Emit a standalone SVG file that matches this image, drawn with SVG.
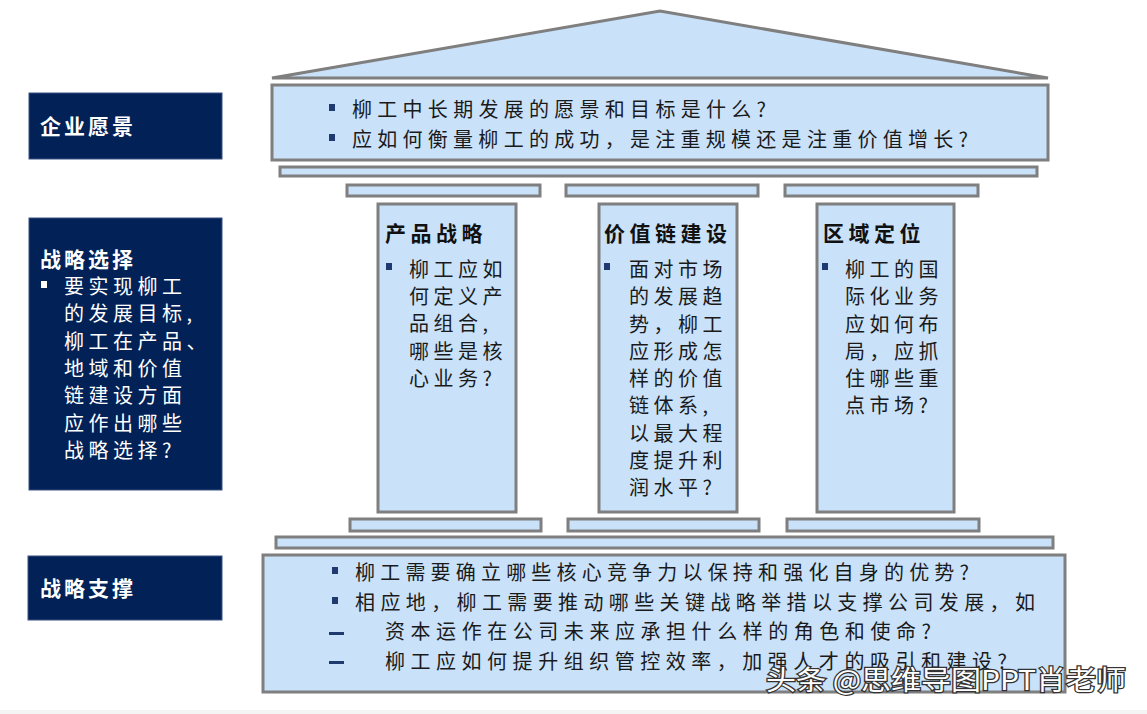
<svg xmlns="http://www.w3.org/2000/svg" width="1147" height="714" viewBox="0 0 1147 714">
<style>
.sh{fill:#c9e2fa;stroke:#7f7f7f;stroke-width:3}
.nv{fill:#012157;stroke:#3a5285;stroke-width:1}
.t{font-family:"Noto Sans CJK SC","Noto Sans",sans-serif;font-size:20px;fill:#1a1a1a}
.tb{font-family:"Noto Sans CJK SC","Noto Sans",sans-serif;font-size:21px;font-weight:bold;fill:#111}
.w{font-family:"Noto Sans CJK SC","Noto Sans",sans-serif;font-size:20px;fill:#fff}
.wb{font-family:"Noto Sans CJK SC","Noto Sans",sans-serif;font-size:21px;font-weight:bold;fill:#fff}
.col{letter-spacing:4.5px}
.bl{fill:#1f3a70}
.bw{fill:#fff}
</style>
<rect x="0" y="0" width="1147" height="714" fill="#fff"/>
<rect x="0" y="710" width="1147" height="4" fill="#f4f4f4"/>

<g id="roof">
<polygon class="sh" points="272,78 660,11 1048,78"/>
</g>

<g id="vision-box">
<rect class="sh" x="272" y="85" width="776" height="75"/>
<rect class="bl" x="329" y="104" width="6" height="7"/>
<text class="t" x="352" y="117" textLength="414" lengthAdjust="spacing">柳工中长期发展的愿景和目标是什么?</text>
<rect class="bl" x="329" y="134" width="6" height="7"/>
<text class="t" x="352" y="147" textLength="616" lengthAdjust="spacing">应如何衡量柳工的成功，是注重规模还是注重价值增长?</text>
</g>

<g id="top-bars">
<rect class="sh" x="280" y="167" width="757" height="9"/>
<rect class="sh" x="347" y="185" width="193" height="11"/>
<rect class="sh" x="566" y="185" width="192" height="11"/>
<rect class="sh" x="785" y="185" width="193" height="11"/>
</g>

<g id="col-product">
<rect class="sh" x="378" y="204" width="138" height="308"/>
<text class="tb col" x="385" y="241">产品战略</text>
<rect class="bl" x="386" y="263" width="6" height="7"/>
<text class="t col" x="409" y="277">柳工应如</text>
<text class="t col" x="409" y="304">何定义产</text>
<text class="t col" x="409" y="331">品组合,</text>
<text class="t col" x="409" y="359">哪些是核</text>
<text class="t col" x="409" y="386">心业务?</text>
</g>

<g id="col-value">
<rect class="sh" x="599" y="204" width="138" height="308"/>
<text class="tb col" x="604" y="241">价值链建设</text>
<rect class="bl" x="604" y="263" width="6" height="7"/>
<text class="t col" x="629" y="277">面对市场</text>
<text class="t col" x="629" y="304">的发展趋</text>
<text class="t col" x="629" y="332">势，柳工</text>
<text class="t col" x="629" y="359">应形成怎</text>
<text class="t col" x="629" y="386">样的价值</text>
<text class="t col" x="629" y="413">链体系,</text>
<text class="t col" x="629" y="441">以最大程</text>
<text class="t col" x="629" y="468">度提升利</text>
<text class="t col" x="629" y="495">润水平?</text>
</g>

<g id="col-region">
<rect class="sh" x="817" y="204" width="137" height="308"/>
<text class="tb col" x="823" y="241">区域定位</text>
<rect class="bl" x="822" y="263" width="6" height="7"/>
<text class="t col" x="845" y="277">柳工的国</text>
<text class="t col" x="845" y="304">际化业务</text>
<text class="t col" x="845" y="332">应如何布</text>
<text class="t col" x="845" y="359">局，应抓</text>
<text class="t col" x="845" y="386">住哪些重</text>
<text class="t col" x="845" y="413">点市场?</text>
</g>

<g id="base-bars">
<rect class="sh" x="350" y="519" width="191" height="12"/>
<rect class="sh" x="568" y="519" width="191" height="12"/>
<rect class="sh" x="787" y="519" width="192" height="12"/>
<rect class="sh" x="276" y="537" width="777" height="11"/>
</g>

<g id="support-box">
<rect class="sh" x="263" y="555" width="802" height="137"/>
<rect class="bl" x="332" y="567" width="6" height="7"/>
<text class="t" x="355" y="580" textLength="614" lengthAdjust="spacing">柳工需要确立哪些核心竞争力以保持和强化自身的优势?</text>
<rect class="bl" x="332" y="597" width="6" height="7"/>
<text class="t" x="355" y="610" textLength="680" lengthAdjust="spacing">相应地，柳工需要推动哪些关键战略举措以支撑公司发展，如</text>
<rect class="bl" x="329" y="632" width="15" height="3"/>
<text class="t" x="385" y="639" textLength="546" lengthAdjust="spacing">资本运作在公司未来应承担什么样的角色和使命?</text>
<rect class="bl" x="329" y="661" width="15" height="3"/>
<text class="t" x="385" y="669" textLength="622" lengthAdjust="spacing">柳工应如何提升组织管控效率，加强人才的吸引和建设?</text>
</g>

<g id="label-vision">
<rect class="nv" x="29" y="93" width="193" height="66"/>
<text class="wb" x="40" y="134" letter-spacing="3">企业愿景</text>
</g>

<g id="label-choice">
<rect class="nv" x="29" y="218" width="193" height="272"/>
<text class="wb" x="40" y="267" letter-spacing="3">战略选择</text>
<rect class="bw" x="41" y="281" width="6" height="7"/>
<g class="w" letter-spacing="4.5">
<text x="64" y="294">要实现柳工</text>
<text x="64" y="321">的发展目标,</text>
<text x="64" y="349">柳工在产品、</text>
<text x="64" y="376">地域和价值</text>
<text x="64" y="403">链建设方面</text>
<text x="64" y="431">应作出哪些</text>
<text x="64" y="458">战略选择?</text>
</g>
</g>

<g id="label-support">
<rect class="nv" x="28" y="556" width="194" height="64"/>
<text class="wb" x="40" y="596" letter-spacing="3">战略支撑</text>
</g>

<g id="watermark">
<text x="766" y="690" font-family="&quot;Noto Sans CJK SC&quot;,sans-serif" font-size="27" fill="#fff" stroke="#333" stroke-width="2.5" paint-order="stroke" textLength="360" lengthAdjust="spacingAndGlyphs">头条 @思维导图PPT肖老师</text>
</g>
</svg>
